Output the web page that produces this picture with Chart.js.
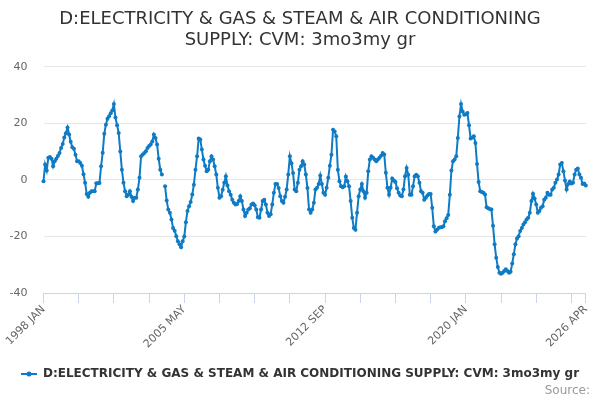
<!DOCTYPE html>
<html>
<head>
<meta charset="utf-8">
<script src="https://cdn.jsdelivr.net/npm/chart.js@4.4.1/dist/chart.umd.min.js"></script>
<style>
html,body{margin:0;padding:0;background:#fff;}
#wrap{position:relative;width:600px;height:400px;}
</style>
</head>
<body>
<div id="wrap"><canvas id="c" width="600" height="400"></canvas></div>
<script>
const titleLines = ["D:ELECTRICITY & GAS & STEAM & AIR CONDITIONING", "SUPPLY: CVM: 3mo3my gr"];
const seriesName = "D:ELECTRICITY & GAS & STEAM & AIR CONDITIONING SUPPLY: CVM: 3mo3my gr";
const sourceText = "Source:";
const startYear = 1998;
const monthNames = ["JAN","FEB","MAR","APR","MAY","JUN","JUL","AUG","SEP","OCT","NOV","DEC"];
const tickLabels = ["1998 JAN","2005 MAY","2012 SEP","2020 JAN","2026 APR"];
const yTicks = [-40,-20,0,20,40];

const values = [
-0.5,5.4,3.3,7.8,8.1,7.5,4.8,6.6,7.5,8.4,9.5,11.3,12.7,15,16.5,18.5,16,13.5,11.5,11,
8.9,6.6,6.6,6,5,2,-1,-5,-6,-4.6,-4,-4,-4,-1.2,-1.2,-1.1,4.8,9.6,16.3,19.5,
21.6,22.5,23.5,24.5,26.8,22,19.3,16.6,10,3.6,-1,-4,-5.8,-5.2,-4,-6,-7.5,-6.3,-6.3,-3.4,
0.7,8.3,9,9.5,10.1,11.3,12,12.5,13.6,16,14.8,12.5,7.5,3.6,1.9,null,-2.3,-7.3,-10.5,-11.6,
-14,-17,-18,-19.9,-21.7,-22.8,-23.8,-21.7,-20,-15,-11,-9.3,-7.8,-5.2,-1.7,3.6,8.3,14.6,14.3,10.7,
7.2,5,3,3.6,6.6,8.3,7.2,4.8,1.9,-2.8,-6.3,-5.8,-3.5,-1,1.3,-2,-4,-5.3,-7,-8.1,
-8.7,-8.5,-7.5,-5.8,-7.5,-10.5,-12.8,-11.6,-10.5,-10,-8.7,-8.4,-9,-10.5,-13.2,-13.4,-10.5,-7.5,-7,-8.7,
-11.6,-12.8,-12.2,-8.7,-4.6,-1.5,-1.5,-2.9,-5.8,-7.5,-8.1,-6,-3.4,1.9,8.3,5.9,2.4,-3.4,-4,-1,
3.6,4.8,6.6,5.4,1.9,-2.9,-10.5,-11.6,-10.5,-8.1,-3.4,-2.8,-1.5,1.5,-1.5,-4.6,-5.3,-2.8,0.7,5,
8.9,17.7,17.1,15.4,3.6,-0.5,-2.3,-2.6,-2.3,1.2,-0.5,-2.3,-7.5,-13.4,-17,-17.6,-11.6,-5.8,-3.4,-1.5,
-4,-6.3,-4.6,3,7.2,8.3,7.8,7.2,6.6,7.2,7.8,8.5,9.5,9,2.5,-2.8,-5.3,-2.8,0.5,-0.2,
-0.8,-3,-4.6,-5.5,-5.8,-3.4,1.3,4.2,1.8,-5.3,-5.3,-2.3,1.3,1.8,1.3,-1,-4,-4.6,-7,-6.3,
-5.5,-5,-5,-9.9,-16.4,-18.3,-17.6,-17,-16.8,-16.8,-16.4,-14.6,-13.6,-12.4,-5.3,3.3,6.6,7.2,8.3,14.8,
22.4,26.8,24.2,23,23.2,23.6,19.3,14.6,15,15.4,13,5.6,-0.8,-4,-4.3,-4.6,-5.2,-9.7,-10,-10.3,
-10.5,-16.2,-22.8,-27.5,-30.8,-32.8,-33.2,-32.8,-32.2,-31.6,-32.2,-32.8,-32.5,-29.6,-26.3,-22.8,-20.7,-19.9,-18.1,-17,
-15.8,-15,-14,-13.4,-11.6,-7.5,-4.9,-6.6,-8.7,-11.6,-11,-9.9,-9.3,-7,-6.3,-4.6,-5.3,-5.3,-3.4,-2.8,
-1,0.1,1.9,5.4,6,3,-0.2,-3.4,-1.5,-0.6,-1.3,-1,1.9,3.6,4,1.9,0.7,-1.5,-1.3,-2
];

const categories = [];
for (let i = 0; i < values.length; i++) {
  categories.push((startYear + Math.floor(i / 12)) + " " + monthNames[i % 12]);
}
const labelSet = new Set(tickLabels);
const tickEvery = 22;

const FONT = "'DejaVu Sans', sans-serif";
const lineColor = '#0f7bc4';

const textPlugin = {
  id: 'texts',
  afterDraw(chart) {
    const ctx = chart.ctx;
    ctx.save();
    ctx.fillStyle = '#333333';
    ctx.font = "18px " + FONT;
    ctx.textAlign = 'center';
    ctx.textBaseline = 'alphabetic';
    ctx.fillText(titleLines[0], 300, 24);
    ctx.fillText(titleLines[1], 300, 45);
    // legend
    ctx.font = "bold 12px " + FONT;
    ctx.textAlign = 'left';
    ctx.textBaseline = 'middle';
    const tw = ctx.measureText(seriesName).width;
    const symW = 16, gap = 6;
    const total = symW + gap + tw;
    const x0 = Math.round(300 - total / 2);
    const ly = 374;
    ctx.strokeStyle = lineColor;
    ctx.lineWidth = 2;
    ctx.beginPath(); ctx.moveTo(x0, ly); ctx.lineTo(x0 + symW, ly); ctx.stroke();
    ctx.fillStyle = lineColor;
    ctx.beginPath(); ctx.arc(x0 + symW / 2, ly, 2.5, 0, Math.PI * 2); ctx.fill();
    ctx.fillStyle = '#333333';
    ctx.fillText(seriesName, x0 + symW + gap, ly);
    // source
    ctx.font = "12px " + FONT;
    ctx.fillStyle = '#999999';
    ctx.textAlign = 'right';
    ctx.fillText(sourceText, 590, 391);
    ctx.restore();
  }
};

new Chart(document.getElementById('c'), {
  type: 'line',
  data: {
    labels: categories,
    datasets: [{
      label: seriesName,
      data: values,
      borderColor: lineColor,
      backgroundColor: lineColor,
      borderWidth: 2,
      pointRadius: 2,
      pointBorderWidth: 0,
      pointBackgroundColor: lineColor,
      pointHoverRadius: 3,
      tension: 0,
      spanGaps: false
    }]
  },
  options: {
    responsive: false,
    animation: false,
    devicePixelRatio: 1,
    layout: { padding: { top: 66.7, left: 0, right: 14.2, bottom: 47 } },
    plugins: {
      legend: { display: false },
      title: { display: false },
      tooltip: { enabled: false }
    },
    scales: {
      x: {
        type: 'category',
        offset: false,
        afterFit(scale) { scale.height = 60; },
        border: { display: true, color: '#ccd6eb', width: 1 },
        grid: {
          display: true,
          drawOnChartArea: false,
          drawTicks: true,
          tickLength: 10,
          offset: false,
          color: (c) => (c.index % tickEvery === 0 || c.index === values.length - 1) ? '#ccd6eb' : 'rgba(0,0,0,0)'
        },
        ticks: {
          autoSkip: false,
          minRotation: 45,
          maxRotation: 45,
          padding: 0,
          color: '#666666',
          font: { family: FONT, size: 11 },
          callback: function(v, i) { const l = categories[i]; return labelSet.has(l) ? l : ''; }
        }
      },
      y: {
        min: -40, max: 40,
        afterFit(scale) { scale.width = 43.5; },
        afterBuildTicks(scale) { scale.ticks = yTicks.map(v => ({ value: v })); },
        border: { display: false },
        grid: { color: '#e6e6e6', lineWidth: 1, drawTicks: false },
        ticks: {
          padding: 16,
          color: '#666666',
          font: { family: FONT, size: 11 }
        }
      }
    }
  },
  plugins: [textPlugin]
});
</script>
</body>
</html>
